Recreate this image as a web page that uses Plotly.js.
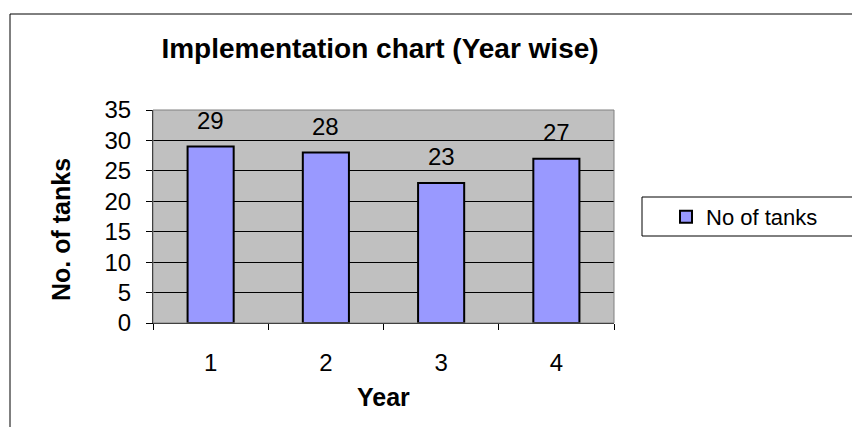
<!DOCTYPE html>
<html>
<head>
<meta charset="utf-8">
<script src="https://cdn.plot.ly/plotly-3.0.1.min.js"></script>
<style>
  html, body { margin: 0; padding: 0; background: #ffffff; }
  #chart { width: 852px; height: 427px; }
</style>
</head>
<body>
<div id="chart"></div>
<script>
const years = ["1", "2", "3", "4"];
const tanks = [29, 28, 23, 27];
const yTicks = [0, 5, 10, 15, 20, 25, 30, 35];
const seriesName = "No of tanks";

const FONT = "Arial, 'Liberation Sans', sans-serif";

const labelAnnotations = years.map((yr, i) => ({
  x: i, y: tanks[i], xref: "x", yref: "y",
  text: String(tanks[i]), showarrow: false,
  yanchor: "bottom", yshift: 11,
  font: { family: FONT, size: 24, color: "#000" }
}));

const data = [{
  type: "bar",
  x: years,
  y: tanks,
  name: seriesName,
  marker: { color: "#9999ff", line: { color: "#000000", width: 2 } },
  hoverinfo: "x+y"
}];

const layout = {
  width: 852, height: 427,
  margin: { l: 153, r: 238, t: 110, b: 104 },
  paper_bgcolor: "#ffffff",
  plot_bgcolor: "#c0c0c0",
  font: { family: FONT, color: "#000" },
  bargap: 0.6,
  showlegend: true,
  title: {
    text: "Implementation chart (Year wise)",
    font: { family: FONT, size: 28, color: "#000", weight: "bold" },
    xref: "paper", x: (380 - 153) / 461, xanchor: "center",
    yref: "container", y: 1 - 48 / 427, yanchor: "middle"
  },
  xaxis: {
    type: "category",
    range: [-0.5, 3.5],
    tickson: "boundaries",
    ticks: "outside", ticklen: 6, tickcolor: "#000", tickwidth: 1,
    ticklabelstandoff: 18,
    tickfont: { family: FONT, size: 24, color: "#000" },
    showline: true, linecolor: "#000", linewidth: 1,
    showgrid: false, zeroline: false, fixedrange: true
  },
  yaxis: {
    range: [0, 35],
    tickvals: yTicks,
    ticktext: yTicks.map(String),
    ticks: "outside", ticklen: 6, tickcolor: "#000", tickwidth: 1,
    ticklabelstandoff: 10,
    tickfont: { family: FONT, size: 24, color: "#000" },
    showline: true, linecolor: "#000", linewidth: 1,
    showgrid: true, gridcolor: "#000", gridwidth: 1,
    zeroline: false, fixedrange: true
  },
  legend: {
    x: (666 - 153) / 461, xanchor: "left", y: (323 - 217) / 213, yanchor: "middle",
    bgcolor: "rgba(0,0,0,0)", borderwidth: 0,
    font: { family: FONT, size: 22, color: "#000" },
    itemclick: false, itemdoubleclick: false
  },
  shapes: [
    { type: "rect", xref: "paper", yref: "paper", x0: 0, x1: 1, y0: 0, y1: 1,
      line: { color: "#808080", width: 1 }, fillcolor: "rgba(0,0,0,0)", layer: "above" },
    { type: "rect", xref: "paper", yref: "paper",
      x0: (642 - 153) / 461, x1: (870 - 153) / 461,
      y0: (323 - 236) / 213, y1: (323 - 197) / 213,
      line: { color: "#000", width: 1 }, fillcolor: "#ffffff", layer: "below" },
    { type: "line", xref: "paper", yref: "paper",
      x0: (10 - 153) / 461, x1: (860 - 153) / 461,
      y0: (323 - 14) / 213, y1: (323 - 14) / 213,
      line: { color: "#000", width: 1 } },
    { type: "line", xref: "paper", yref: "paper",
      x0: (10 - 153) / 461, x1: (10 - 153) / 461,
      y0: (323 - 14) / 213, y1: (323 - 440) / 213,
      line: { color: "#000", width: 1 } }
  ],
  annotations: labelAnnotations.concat([
    { text: "No. of tanks", xref: "paper", yref: "paper",
      x: (61 - 153) / 461, y: (323 - 230) / 213, textangle: -90,
      showarrow: false, xanchor: "center", yanchor: "middle",
      font: { family: FONT, size: 25, color: "#000", weight: "bold" } },
    { text: "Year", xref: "paper", yref: "paper",
      x: (383 - 153) / 461, y: (323 - 397) / 213,
      showarrow: false, xanchor: "center", yanchor: "middle",
      font: { family: FONT, size: 25, color: "#000", weight: "bold" } }
  ])
};

Plotly.newPlot("chart", data, layout, { displayModeBar: false });
</script>
</body>
</html>
